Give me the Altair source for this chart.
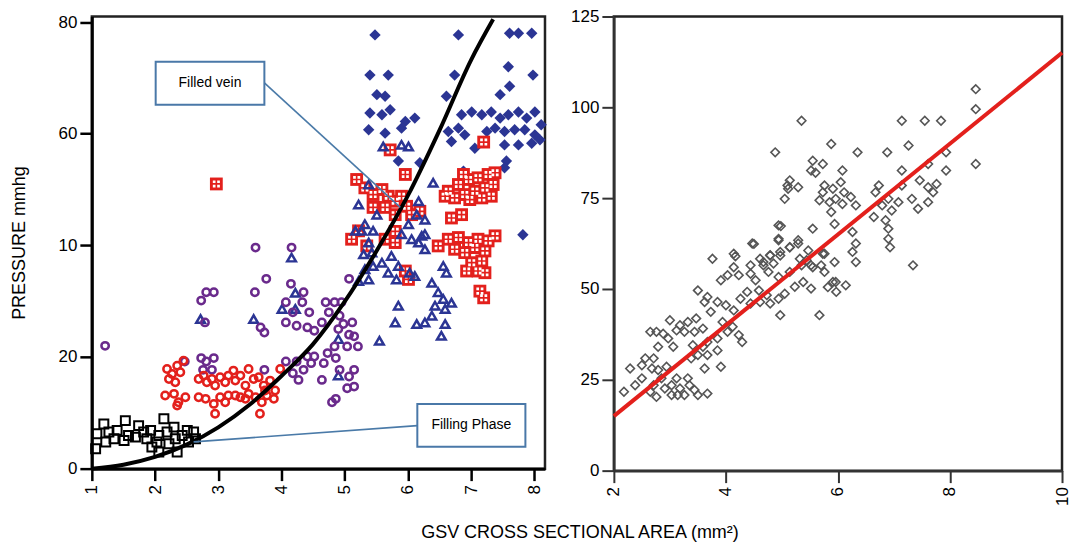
import json
import altair as alt
import pandas as pd

# ---------------- Left panel data ----------------
sq_x = [1.19, 1.08, 1.27, 1.40, 1.53, 1.58, 1.51, 1.74, 1.69, 1.82, 1.87, 1.95, 2.03, 2.06, 2.14,
        2.19, 2.22, 2.30, 2.32, 2.35, 2.43, 2.51, 2.53, 2.61, 2.64, 1.06, 1.22, 1.35, 2.06, 1.93]
sq_y = [8.0, 6.25, 6.55, 6.85, 8.6, 5.95, 5.05, 7.7, 5.65, 6.55, 5.35, 3.87, 4.76, 2.98, 8.93,
        6.55, 4.46, 7.44, 5.35, 2.98, 5.95, 6.85, 4.76, 6.55, 5.35, 3.57, 4.76, 5.35, 5.95, 6.85]

rc_x = [2.19, 2.27, 2.35, 2.40, 2.45, 2.22, 2.32, 2.16, 2.30, 2.37, 2.35, 2.48, 2.69, 2.77, 2.82,
        2.90, 2.95, 3.03, 3.11, 3.16, 3.24, 3.27, 3.35, 3.43, 3.48, 3.56, 3.64, 3.72, 3.82, 2.69,
        2.80, 2.93, 2.95, 3.03, 3.11, 3.16, 3.27, 3.35, 3.43, 3.48, 3.59, 3.69, 3.77, 3.88, 3.66,
        3.90, 3.98, 3.74]
rc_y = [17.86, 16.96, 18.45, 17.26, 19.34, 16.07, 15.48, 13.1, 13.4, 11.9, 11.3, 12.8, 16.07, 16.67, 15.48,
        16.07, 14.88, 16.37, 15.48, 16.67, 17.56, 15.77, 16.67, 14.88, 17.86, 16.07, 16.37, 14.88, 15.77, 12.8,
        12.5, 11.6, 9.82, 12.8, 11.9, 13.1, 13.1, 12.8, 12.5, 13.4, 12.8, 11.9, 13.1, 12.5, 9.82,
        14.0, 17.86, 14.0]

pc_x = [1.21, 2.73, 2.81, 2.93, 2.79, 3.76, 3.58, 3.67, 3.73, 4.15, 4.35, 4.07, 4.33, 4.18, 4.44,
        4.07, 4.24, 4.41, 4.52, 4.64, 4.70, 4.84, 4.95, 5.07, 4.75, 4.92, 4.98, 5.12, 4.90, 5.07,
        5.15, 4.84, 5.04, 5.21, 4.73, 4.86, 4.52, 4.67, 4.47, 4.92, 5.15, 5.07, 5.15, 5.04, 4.64,
        4.27, 4.35, 4.18, 4.07, 4.24, 4.41, 4.86, 4.80, 3.73, 2.73, 2.81, 2.93, 2.76, 2.90, 2.47,
        3.59, 4.16]
pc_y = [22.0, 30.1, 31.6, 31.6, 26.2, 34.0, 31.6, 25.3, 24.4, 33.1, 31.6, 29.8, 29.8, 28.0, 28.0,
        26.2, 25.6, 25.3, 24.7, 26.2, 29.8, 29.8, 29.8, 34.0, 28.0, 27.4, 25.9, 26.2, 25.0, 24.0,
        23.7, 21.9, 21.9, 21.9, 20.7, 19.8, 20.1, 18.9, 18.9, 17.7, 17.7, 16.5, 14.7, 14.4, 15.9,
        15.9, 17.7, 17.1, 19.2, 19.2, 20.1, 12.5, 11.9, 17.7, 19.8, 19.2, 19.8, 17.7, 17.7, 19.2,
        39.6, 39.6]

tr_x = [4.16, 4.22, 4.01, 4.22, 2.72, 3.56, 4.90, 4.90, 5.55, 6.69,
        5.27, 5.38, 5.30, 5.43, 5.32, 5.45, 5.59, 5.74, 5.69, 5.85, 5.82, 6.03, 6.11, 5.38, 5.22,
        6.06, 6.17, 6.27, 6.22, 6.56, 6.61, 6.38, 6.48, 6.56, 6.43, 6.59, 6.38, 5.85, 5.80, 6.14,
        6.27, 6.59, 6.53,
        5.61, 5.90, 6.01, 6.40, 5.38, 5.22, 5.51, 5.32, 5.45, 6.17, 6.27, 6.01, 5.90, 6.14, 5.17, 6.27]
tr_y = [37.8, 31.5, 28.6, 28.6, 26.8, 26.8, 23.2, 16.7, 22.9, 29.7,
        42.6, 40.5, 38.4, 38.7, 35.7, 36.3, 36.9, 38.1, 35.1, 36.3, 33.9, 35.1, 34.5, 33.9, 33.6,
        41.1, 40.5, 39.3, 41.7, 36.3, 35.1, 33.3, 31.6, 30.4, 29.2, 28.6, 27.4, 29.2, 26.2, 25.9,
        26.2, 25.9, 23.8,
        57.7, 58.0, 57.7, 51.2, 50.9, 47.3, 45.5, 43.8, 42.6, 47.9, 44.6, 43.8, 42.0, 45.5, 42.6, 42.0]

gs_x = [2.97, 5.72, 7.20, 5.96,
        5.19, 5.32, 5.45, 5.59, 5.69, 5.80, 5.90, 5.98, 6.06, 5.64, 5.45, 5.80, 6.19, 5.22,
        6.64, 6.80, 6.96, 7.11, 7.27, 7.38, 6.90, 7.06, 7.22, 7.35, 6.74, 6.98, 7.17, 7.32, 6.59, 6.88,
        6.69, 6.85, 6.64, 6.80, 6.96, 7.11, 7.27, 7.38, 6.74, 6.90, 7.06, 7.22, 7.01, 7.17, 6.93,
        7.11, 7.22, 7.14, 7.20,
        5.96, 6.01, 5.11, 5.35, 5.64, 5.80, 5.80, 6.48]
gs_y = [51.0, 57.1, 58.5, 52.7,
        51.8, 50.3, 49.1, 50.0, 48.8, 47.9, 48.8, 47.0, 45.5, 46.8, 46.8, 45.5, 46.1, 42.6,
        49.7, 50.9, 51.8, 52.1, 52.7, 53.0, 49.1, 49.7, 50.3, 50.9, 48.5, 48.2, 48.5, 48.8, 48.8, 52.7,
        44.9, 45.5, 41.1, 41.4, 40.5, 41.1, 40.8, 41.7, 39.3, 38.7, 39.6, 39.0, 36.9, 37.2, 35.4,
        35.4, 35.1, 31.8, 30.6,
        35.4, 33.9, 41.1, 39.9, 41.1, 40.5, 42.5, 39.9]

dm_x = [5.48, 6.80, 7.61, 7.75, 7.96, 5.40, 5.69, 6.74, 7.59, 7.98, 5.51, 5.64, 6.61, 7.46, 7.61,
        5.40, 5.59, 5.72, 5.96, 6.11, 5.90, 5.38, 5.64, 5.85, 6.19, 6.85, 7.01, 7.17, 6.80, 6.90,
        6.69, 7.06, 7.32, 7.46, 7.59, 7.75, 7.88, 8.01, 8.11, 7.38, 7.53, 7.69, 7.85, 8.01, 7.53,
        7.75, 7.96, 8.09, 7.56, 7.53, 7.82, 6.88, 6.64, 7.25]
dm_y = [77.7, 77.7, 78.0, 78.0, 78.0, 70.5, 70.5, 70.5, 72.0, 70.5, 67.0, 66.7, 66.7, 67.0, 68.5,
        63.7, 63.4, 64.3, 62.2, 62.8, 61.0, 60.7, 60.1, 55.1, 54.8, 63.4, 63.9, 63.4, 61.0, 59.8,
        58.6, 57.4, 63.9, 62.8, 63.4, 63.9, 62.8, 63.9, 61.6, 61.0, 60.4, 60.7, 60.7, 59.8, 58.0,
        58.0, 58.3, 58.9, 55.1, 53.9, 41.9, 53.3, 60.4, 60.4]

curve_x = [1.0, 1.5, 2.0, 2.5, 3.0, 3.5, 4.0, 4.5, 5.0, 5.5, 6.0, 6.5, 7.0, 7.35]
curve_y = [0.0, 0.7, 2.1, 4.3, 7.4, 11.5, 16.6, 22.3, 29.9, 38.9, 48.9, 60.6, 73.2, 80.5]

# annotations (data units)
box_label = ["Filled vein", "Filling Phase"]
box_x1 = [2.01, 6.15]
box_x2 = [3.73, 7.86]
box_y1 = [65.2, 3.9]
box_y2 = [72.9, 11.6]
lead_x1 = [3.73, 6.15]
lead_y1 = [69.1, 7.7]
lead_x2 = [5.88, 2.61]
lead_y2 = [46.8, 4.8]

left_tick_vals = [0, 20, 40, 60, 80]
left_tick_text = ["0", "20", "10", "60", "80"]

# ---------------- Right panel data ----------------
rd_x = [4.47, 4.94, 5.14, 5.29, 3.76, 4.14, 4.79, 4.97, 4.61, 4.44, 4.67, 4.85, 4.14, 4.03, 4.23,
        3.91, 4.44, 4.53, 4.76, 4.94, 5.14, 5.35, 5.44, 5.73, 5.76, 5.55, 5.91, 5.97, 5.38, 5.52,
        5.23, 5.05, 4.94, 4.73, 4.59, 4.38, 4.26, 4.44, 4.61, 4.79, 4.97, 5.67, 4.14, 4.00, 3.85,
        3.67, 3.50, 3.62, 3.73, 3.47, 3.32, 3.18, 3.26, 3.44, 3.59, 3.94, 4.12, 4.03, 4.23, 4.29,
        3.85, 3.67, 3.59, 3.41, 3.38, 3.50, 3.67, 3.85, 3.62, 3.91, 3.00, 3.12, 2.97, 3.06, 2.79,
        2.65, 2.76, 2.88, 2.71, 2.56, 2.50, 2.68, 2.79, 2.94, 2.85, 2.71, 2.65, 2.76, 2.91, 3.03,
        3.12, 3.18, 3.32, 3.35, 3.44, 3.26, 3.14, 3.50, 3.67, 3.03, 2.29, 2.18, 2.50, 2.38,
        5.35, 4.88, 5.88, 6.35, 6.88, 7.26, 7.14, 7.55, 7.84, 8.46, 8.46, 8.46, 7.93, 7.93, 7.61,
        7.14, 7.46, 7.61, 7.76, 7.70, 7.61, 7.43, 7.32, 7.14, 7.08, 6.96, 6.90, 6.73, 6.67, 6.79,
        6.64, 6.85, 6.90, 6.90, 6.93, 7.34, 5.55, 5.73, 6.08, 5.52, 6.05, 5.91, 6.11, 5.76, 5.73,
        5.96, 5.85, 6.08, 6.23, 6.32, 5.67, 5.88, 6.26, 6.32, 6.32, 6.26, 5.94, 5.55, 5.76, 5.70,
        5.94, 6.14, 5.96, 5.82, 5.14, 5.11, 5.29, 5.05, 4.94, 4.94, 5.14, 5.29, 5.47, 5.52, 5.32,
        4.97, 4.79, 4.67, 4.17, 4.50, 4.98, 5.10, 5.60]
rd_y = [62.5, 63.4, 61.5, 62.5, 58.3, 59.7, 59.3, 60.2, 58.3, 56.5, 56.5, 57.0, 56.0, 53.8, 53.8,
        52.4, 54.2, 52.4, 54.7, 53.3, 54.7, 56.5, 57.9, 59.7, 54.7, 56.0, 51.9, 49.2, 51.9, 50.1,
        50.6, 48.7, 47.3, 48.3, 49.6, 49.2, 47.3, 46.0, 46.4, 46.0, 42.8, 42.8, 44.1, 45.5, 46.4,
        47.8, 49.6, 46.4, 43.7, 41.9, 40.9, 40.0, 38.2, 38.2, 39.1, 40.9, 39.6, 38.2, 37.3, 35.4,
        36.4, 35.4, 34.1, 34.5, 30.9, 31.8, 31.8, 33.1, 28.1, 28.6, 41.4, 38.6, 36.4, 34.1, 34.1,
        38.2, 38.2, 37.7, 30.9, 30.9, 29.0, 28.1, 27.7, 28.6, 25.4, 23.5, 21.7, 20.3, 22.6, 23.5,
        25.4, 22.6, 25.4, 23.5, 22.2, 20.8, 20.8, 20.8, 21.2, 20.8, 28.1, 21.7, 25.4, 23.5,
        96.3, 87.6, 89.9, 87.6, 87.6, 89.5, 96.3, 96.3, 96.3, 99.5, 105.0, 84.4, 87.6, 82.6, 84.4,
        82.6, 79.9, 78.0, 78.9, 76.6, 73.9, 72.1, 74.8, 78.5, 73.9, 71.6, 74.8, 78.5, 76.6, 73.0,
        69.8, 68.9, 66.6, 63.8, 61.5, 56.5, 85.3, 84.4, 82.6, 82.6, 79.4, 77.6, 76.6, 78.5, 76.6,
        74.8, 73.9, 73.4, 75.3, 73.0, 74.4, 71.2, 65.7, 62.5, 57.4, 60.2, 67.9, 66.6, 59.7, 56.5,
        57.4, 51.0, 51.9, 50.5, 79.9, 77.6, 78.0, 74.8, 67.5, 63.8, 61.5, 63.4, 60.6, 56.5, 58.3,
        59.2, 59.2, 57.4, 59.0, 62.4, 67.3, 78.5, 82.0]

reg_x = [2, 10]
reg_y = [15, 115]

FONT = "Liberation Sans"
RED = "#e3201c"
BLUE = "#2b3594"
PURPLE = "#6a2a8c"

# ---------------- Left panel ----------------
xs_l = alt.Scale(domain=[1, 8.17], nice=False, zero=False)
ys_l = alt.Scale(domain=[0, 81], nice=False, zero=False)

label_expr = "{}[indexof({}, datum.value)]".format(json.dumps(left_tick_text), json.dumps(left_tick_vals))

x_left = alt.X("x:Q", scale=xs_l, axis=alt.Axis(values=list(range(1, 9)), format="d", labelAngle=270, labelFontSize=17,
                                                  tickSize=12, tickWidth=2.5, domainWidth=3, domainColor="black",
                                                  tickColor="black", labelColor="black", labelPadding=4,
                                                  grid=False, title=None))
y_left = alt.Y("y:Q", scale=ys_l, axis=alt.Axis(values=left_tick_vals, labelExpr=label_expr, labelFontSize=17,
                                                  tickSize=12, tickWidth=2.5, domainWidth=3, domainColor="black",
                                                  tickColor="black", labelColor="black", labelPadding=3,
                                                  grid=False, title="PRESSURE mmhg", titleFontSize=18,
                                                  titleFontWeight="normal", titleColor="black", titlePadding=30))
x_l = alt.X("x:Q", scale=xs_l)
y_l = alt.Y("y:Q", scale=ys_l)

df_sq = pd.DataFrame({"x": sq_x, "y": sq_y})
df_rc = pd.DataFrame({"x": rc_x, "y": rc_y})
df_pc = pd.DataFrame({"x": pc_x, "y": pc_y})
df_tr = pd.DataFrame({"x": tr_x, "y": tr_y})
df_gs = pd.DataFrame({"x": gs_x, "y": gs_y})
df_dm = pd.DataFrame({"x": dm_x, "y": dm_y})
df_curve = pd.DataFrame({"x": curve_x, "y": curve_y})
df_box = pd.DataFrame({"label": box_label, "x": box_x1, "x2": box_x2, "y": box_y1, "y2": box_y2,
                       "tx": [(a + b) / 2 for a, b in zip(box_x1, box_x2)],
                       "ty": [(a + b) / 2 for a, b in zip(box_y1, box_y2)]})
df_lead = pd.DataFrame({"x": lead_x1, "y": lead_y1, "x2": lead_x2, "y2": lead_y2})

base_axes = alt.Chart(df_curve).mark_point(opacity=0).encode(x=x_left, y=y_left)

dm_layer = alt.Chart(df_dm).mark_point(shape="diamond", filled=True, size=130, color=BLUE, opacity=1).encode(x=x_l, y=y_l)
gs_layer = alt.Chart(df_gs).mark_point(shape="square", filled=True, size=165, color=RED, opacity=1).encode(x=x_l, y=y_l)
gs_holes = alt.Chart(df_gs).mark_point(
    shape="M-0.55,-0.55h0.42v0.42h-0.42z M0.13,-0.55h0.42v0.42h-0.42z M-0.55,0.13h0.42v0.42h-0.42z M0.13,0.13h0.42v0.42h-0.42z",
    filled=True, size=165, color="white", opacity=1).encode(x=x_l, y=y_l)
tr_layer = alt.Chart(df_tr).mark_point(shape="triangle-up", filled=False, size=75, color=BLUE, strokeWidth=2.5, opacity=1).encode(x=x_l, y=y_l)
pc_layer = alt.Chart(df_pc).mark_point(shape="circle", filled=False, size=55, color=PURPLE, strokeWidth=2.5, opacity=1).encode(x=x_l, y=y_l)
rc_layer = alt.Chart(df_rc).mark_point(shape="circle", filled=False, size=55, color=RED, strokeWidth=2.5, opacity=1).encode(x=x_l, y=y_l)
sq_layer = alt.Chart(df_sq).mark_point(shape="square", filled=False, size=80, color="black", strokeWidth=2, opacity=1).encode(x=x_l, y=y_l)
curve_layer = alt.Chart(df_curve).mark_line(color="black", strokeWidth=4, interpolate="monotone").encode(x=x_l, y=y_l)
lead_layer = alt.Chart(df_lead).mark_rule(color="#4a7aa8", strokeWidth=1.6).encode(
    x=x_l, y=y_l, x2="x2:Q", y2="y2:Q")
box_layer = alt.Chart(df_box).mark_rect(fill="white", stroke="#4a78a8", strokeWidth=2).encode(
    x=x_l, x2="x2:Q", y=y_l, y2="y2:Q")
text_layer = alt.Chart(df_box).mark_text(fontSize=14, font=FONT, color="black").encode(
    x=alt.X("tx:Q", scale=xs_l), y=alt.Y("ty:Q", scale=ys_l), text="label:N")

left = alt.layer(base_axes, dm_layer, gs_layer, gs_holes, tr_layer, pc_layer, rc_layer, sq_layer,
                 curve_layer, lead_layer, box_layer, text_layer).properties(width=454, height=453)

# ---------------- Right panel ----------------
xs_r = alt.Scale(domain=[2, 10], nice=False, zero=False)
ys_r = alt.Scale(domain=[0, 125], nice=False, zero=False)
df_rd = pd.DataFrame({"x": rd_x, "y": rd_y})
df_reg = pd.DataFrame({"x": reg_x, "y": reg_y})

rd_layer = alt.Chart(df_rd).mark_point(shape="diamond", filled=False, size=75, color="#555555", strokeWidth=1.6, opacity=1).encode(
    x=alt.X("x:Q", scale=xs_r, axis=alt.Axis(values=[2, 4, 6, 8, 10], format="d", labelAngle=270, labelFontSize=17,
                                              tickSize=12, tickWidth=2, domainWidth=2.5, domainColor="#333",
                                              tickColor="#333", labelColor="black", labelPadding=4,
                                              grid=False, title=None)),
    y=alt.Y("y:Q", scale=ys_r, axis=alt.Axis(values=[0, 25, 50, 75, 100, 125], labelFontSize=17,
                                              tickSize=12, tickWidth=2, domainWidth=2.5, domainColor="#333",
                                              tickColor="#333", labelColor="black", labelPadding=3,
                                              grid=False, title=None)))
reg_layer = alt.Chart(df_reg).mark_line(color=RED, strokeWidth=4).encode(
    x=alt.X("x:Q", scale=xs_r), y=alt.Y("y:Q", scale=ys_r))

right = alt.layer(rd_layer, reg_layer).properties(width=449, height=455)

chart = alt.hconcat(left, right, spacing=20).properties(
    title=alt.TitleParams(text="GSV CROSS SECTIONAL AREA (mm²)", orient="bottom", anchor="middle",
                          fontSize=18, fontWeight="normal", font=FONT, color="black", offset=17, dx=40),
    padding={"left": 0, "top": -3, "right": 0, "bottom": 0},
).configure(font=FONT).configure_view(stroke="#222", strokeWidth=2.5)

chart.save("out.html", embed_options={"renderer": "svg", "actions": False})
